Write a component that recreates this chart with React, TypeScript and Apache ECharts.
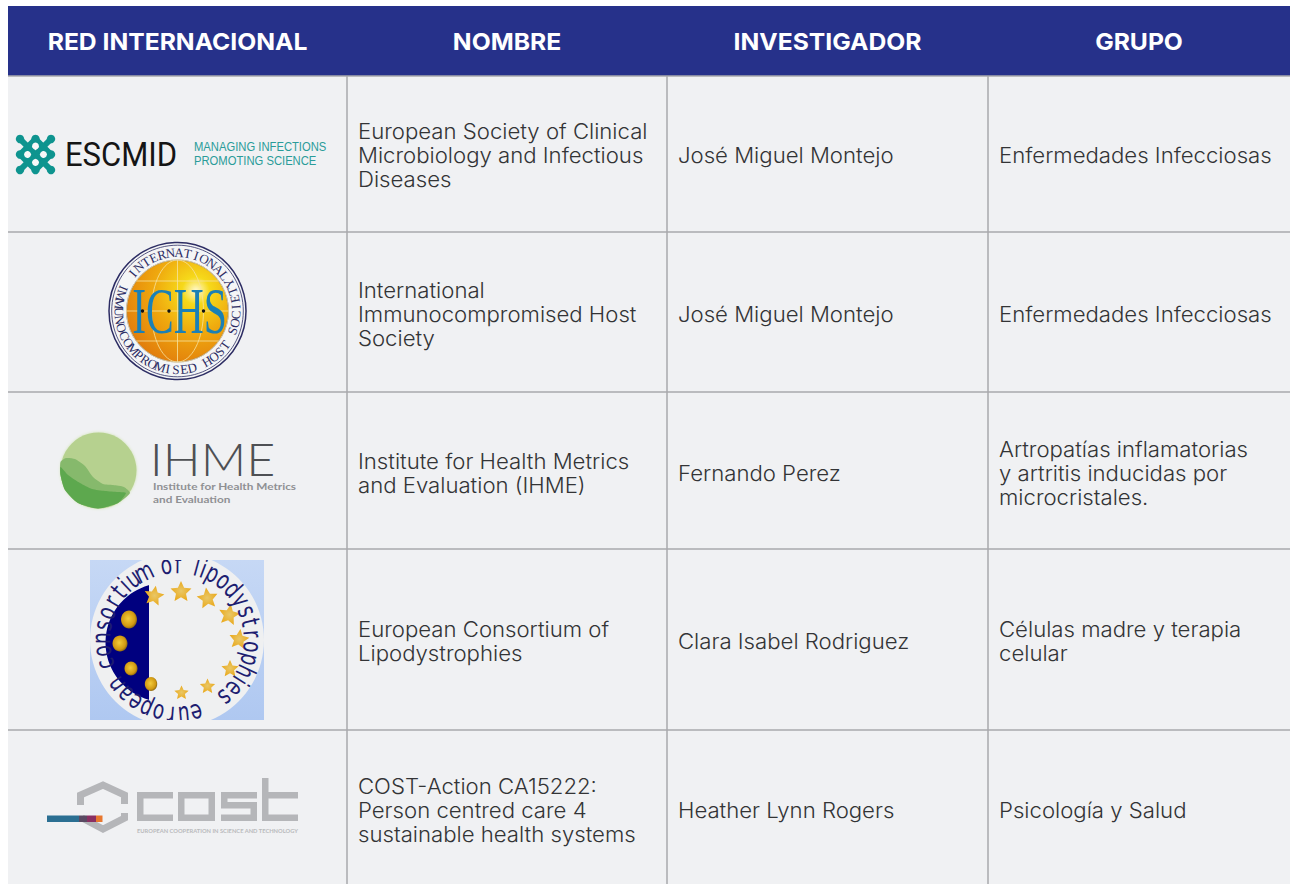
import React, { useEffect, useRef } from "react";
import * as echarts from "echarts";

const headers = ["RED INTERNACIONAL", "NOMBRE", "INVESTIGADOR", "GRUPO"];
const nombres = [
  ["European Society of Clinical", "Microbiology and Infectious", "Diseases"],
  ["International", "Immunocompromised Host", "Society"],
  ["Institute for Health Metrics", "and Evaluation (IHME)"],
  ["European Consortium of", "Lipodystrophies"],
  ["COST-Action CA15222:", "Person centred care 4", "sustainable health systems"],
];
const investigadores = [
  "José Miguel Montejo",
  "José Miguel Montejo",
  "Fernando Perez",
  "Clara Isabel Rodriguez",
  "Heather Lynn Rogers",
];
const grupos = [
  ["Enfermedades Infecciosas"],
  ["Enfermedades Infecciosas"],
  ["Artropatías inflamatorias", "y artritis inducidas por", "microcristales."],
  ["Células madre y terapia", "celular"],
  ["Psicología y Salud"],
];
const rowEdges = [76, 232, 392, 549, 730, 884];
const colEdges = [8, 347, 667, 988, 1290];

const escmidName = "ESCMID";
const escmidTag = ["MANAGING INFECTIONS", "PROMOTING SCIENCE"];
const ichsTop = "INTERNATIONAL";
const ichsBottom = "IMMUNOCOMPROMISED HOST SOCIETY";
const ichsInner = "ICHS";
const ihmeName = "IHME";
const ihmeSub = ["Institute for Health Metrics", "and Evaluation"];
const lipoRing = "european consortium of lipodystrophies";
const costSub = "EUROPEAN COOPERATION IN SCIENCE AND TECHNOLOGY";

const CELL = "#F0F1F3";
const RULE = "#A8A9AD";
const rad = (d: number) => (d * Math.PI) / 180;
const polar = (cx: number, cy: number, r: number, deg: number): [number, number] => [
  cx + r * Math.sin(rad(deg)),
  cy - r * Math.cos(rad(deg)),
];

function label(x: number, y: number, text: string, font: string, fill: string, o: any = {}) {
  const { align = "left", scaleX = 1, scaleY = 1, rotation = 0, lineHeight, opacity = 1 } = o;
  return {
    type: "text", x, y, scaleX, scaleY, rotation, silent: true,
    style: { text, x: 0, y: 0, font, fill, align, verticalAlign: "middle", lineHeight, opacity },
  };
}
const rect = (x: number, y: number, width: number, height: number, fill: string) => ({
  type: "rect", silent: true, shape: { x, y, width, height }, style: { fill },
});
const circle = (cx: number, cy: number, r: number, style: any) => ({
  type: "circle", silent: true, shape: { cx, cy, r }, style,
});
function star(cx: number, cy: number, r: number, rot: number) {
  const points: number[][] = [];
  for (let i = 0; i < 10; i++) points.push(polar(cx, cy, i % 2 ? r * 0.48 : r, rot + i * 36));
  return {
    type: "polygon", silent: true, shape: { points },
    style: {
      fill: { type: "radial", x: 0.5, y: 0.5, r: 0.6, colorStops: [{ offset: 0, color: "#E9C766" }, { offset: 1, color: "#EAA40F" }] },
    },
  };
}
const orb = (cx: number, cy: number, rx: number, ry: number) => ({
  type: "ellipse", silent: true, shape: { cx, cy, rx, ry },
  style: {
    fill: { type: "radial", x: 0.45, y: 0.45, r: 0.6, colorStops: [{ offset: 0, color: "#F3CB3A" }, { offset: 0.7, color: "#D29A12" }, { offset: 1, color: "#7A5A0E" }] },
  },
});

function tableEls(): any[] {
  const els: any[] = [];
  els.push(rect(colEdges[0], 6, colEdges[4] - colEdges[0], 70, "#26318A"));
  els.push(rect(colEdges[0], 76, colEdges[4] - colEdges[0], 808, CELL));
  headers.forEach((h, i) => {
    els.push(label((colEdges[i] + colEdges[i + 1]) / 2, 41.5, h, `bold 23.5px Inter, sans-serif`, "#FFFFFF", { align: "center", scaleX: 1.05 }));
  });
  rowEdges.slice(0, 5).forEach((y) => els.push(rect(colEdges[0], y - 0.75, colEdges[4] - colEdges[0], 1.5, RULE)));
  colEdges.slice(1, 4).forEach((x) => els.push(rect(x - 0.75, 76, 1.5, 808, RULE)));
  const tf = `300 21px Inter, sans-serif`;
  const ink = "#333436";
  nombres.forEach((_, r) => {
    const cy = [155.5, 314, 473, 641, 810][r];
    const block = (col: number, lines: string[]) =>
      lines.forEach((ln, k) => {
        els.push(label(colEdges[col] + 11, cy + (k - (lines.length - 1) / 2) * 24, ln, tf, ink, { scaleX: 1.055 }));
      });
    block(1, nombres[r]);
    block(2, [investigadores[r]]);
    block(3, grupos[r]);
  });
  return els;
}

function escmidEls(): any[] {
  const T = "#0E948F";
  const els: any[] = [];
  const nodes: number[][] = [[20, 139], [35.5, 139], [51, 139], [20, 154.5], [35.5, 154.5], [51, 154.5], [20, 170], [35.5, 170], [51, 170]];
  const mids: number[][] = [[27.75, 146.75], [43.25, 146.75], [27.75, 162.25], [43.25, 162.25]];
  mids.forEach(([mx, my]) => {
    [[-1, -1], [1, -1], [-1, 1], [1, 1]].forEach(([a, b]) => {
      els.push({
        type: "line", silent: true,
        shape: { x1: mx, y1: my, x2: mx + a * 7.75, y2: my + b * 7.75 },
        style: { stroke: T, lineWidth: 6, lineCap: "round" },
      });
    });
  });
  nodes.forEach(([x, y], i) => { if (i !== 4) els.push(circle(x, y, 4.2, { fill: T })); });
  [[35.5, 146], [27.5, 154.5], [43.5, 154.5], [35.5, 162.5]].forEach(([x, y]) => els.push(circle(x, y, 3.4, { fill: "#F7F8F8" })));
  els.push(label(121, 154.5, escmidName, `33px Roboto, sans-serif`, "#151515", { align: "center", scaleX: 0.94 }));
  escmidTag.forEach((t, i) => {
    els.push(label(194, 147 + i * 14, t, `12.5px "Liberation Sans", sans-serif`, "#2A9C99", { scaleX: 0.9 }));
  });
  return els;
}

function ichsEls(): any[] {
  const cx = 177.5, cy = 311;
  const N = "#2C2C63";
  const els: any[] = [];
  els.push(circle(cx, cy, 68.5, { fill: "#F4F5F6", stroke: N, lineWidth: 1.5 }));
  els.push(circle(cx, cy, 65.8, { fill: "none", stroke: N, lineWidth: 0.8 }));
  els.push(circle(cx, cy, 51, {
    fill: {
      type: "radial", x: 0.68, y: 0.3, r: 0.75,
      colorStops: [{ offset: 0, color: "#FFF9D0" }, { offset: 0.18, color: "#F6D91A" }, { offset: 0.55, color: "#EFA80E" }, { offset: 1, color: "#E27F0C" }],
    },
    stroke: N, lineWidth: 0.6,
  }));
  const grid = "#F6E2A0";
  [[cx, cy, 51, 51], [cx, cy, 26, 51]].forEach(([a, b, rx, ry]) =>
    els.push({ type: "ellipse", silent: true, shape: { cx: a, cy: b, rx, ry }, style: { fill: "none", stroke: grid, lineWidth: 0.8 } }));
  [-30, 0, 30].forEach((d) => {
    const hw = Math.sqrt(51 * 51 - d * d);
    els.push({ type: "line", silent: true, shape: { x1: cx - hw, y1: cy + d, x2: cx + hw, y2: cy + d }, style: { stroke: grid, lineWidth: 0.8 } });
  });
  els.push({ type: "line", silent: true, shape: { x1: cx, y1: cy - 51, x2: cx, y2: cy + 51 }, style: { stroke: grid, lineWidth: 0.8 } });
  els.push(label(cx + 2, cy, ichsInner, `66px "Liberation Serif", serif`, "#1A80B6", { align: "center", scaleX: 0.63 }));
  [[142.5, 311], [169, 311], [203.5, 311]].forEach(([x, y]) => els.push(circle(x, y, 1.7, { fill: "#111" })));
  const f = `13px "Liberation Serif", serif`;
  const top = ichsTop.split("");
  top.forEach((ch, i) => {
    const a = -50 + (i * 103) / (top.length - 1);
    const [x, y] = polar(cx, cy, 58.5, a);
    els.push(label(x, y, ch, f, N, { align: "center", rotation: rad(-a) }));
  });
  const bot = ichsBottom.split("");
  bot.forEach((ch, i) => {
    const a = 293 - (i * 231) / (bot.length - 1);
    const [x, y] = polar(cx, cy, 58.5, a);
    if (ch !== " ") els.push(label(x, y, ch, f, N, { align: "center", rotation: rad(180 - a) }));
  });
  return els;
}

function ihmeEls(): any[] {
  const els: any[] = [];
  els.push(circle(98.5, 470.5, 38, { fill: "#B6D18F", shadowColor: "#CFE3B0", shadowBlur: 3 }));
  const mid = [[60.5, 462], [66, 458], [75, 459], [85, 466], [93, 477], [103, 484], [113, 485], [124, 487], [130, 493], [118, 503], [98, 508.5], [78, 503], [65, 490], [60.5, 475]];
  const low = [[60.5, 467], [68, 475], [80, 483], [92, 489], [105, 491], [118, 492], [126, 493], [118, 503], [98, 508.5], [78, 503], [65, 490], [60.5, 475]];
  els.push({ type: "polygon", silent: true, shape: { points: mid, smooth: 0.2 }, style: { fill: "#86B96C" } });
  els.push({ type: "polygon", silent: true, shape: { points: low, smooth: 0.2 }, style: { fill: "#5DA84E" } });
  els.push(label(212.5, 459, ihmeName, `300 44px Lato, sans-serif`, "#4E5054", { align: "center", scaleX: 1.14, scaleY: 1.02 }));
  els.push(label(153, 486, ihmeSub[0], `bold 10.3px Lato, sans-serif`, "#8F9093", { scaleX: 1.146 }));
  els.push(label(153, 498.5, ihmeSub[1], `bold 10.3px Lato, sans-serif`, "#8F9093", { scaleX: 1.146 }));
  return els;
}

function lipoEls(): any[] {
  const cx = 177, cy = 640;
  const els: any[] = [];
  els.push({
    type: "rect", silent: true, shape: { x: 90, y: 560, width: 174, height: 160 },
    style: { fill: { type: "linear", x: 0, y: 0, x2: 0, y2: 1, colorStops: [{ offset: 0, color: "#C6D8F5" }, { offset: 1, color: "#AFC8F1" }] } },
  });
  els.push(circle(cx, cy, 87, { fill: "#EFF0F1" }));
  // navy half disc, left of x = 149
  const arc: number[][] = [];
  for (let a = 196; a <= 344; a += 4) arc.push(polar(165, 642.5, 59.5, a));
  const disc = [[149, 585], [149, 700], ...arc];
  els.push({ type: "polygon", silent: true, shape: { points: disc }, style: { fill: "#00007F" } });
  els.push(orb(129, 619.5, 8, 9));
  els.push(orb(120, 643.5, 7.5, 8));
  els.push(orb(131, 668.5, 6.5, 7));
  els.push(orb(151, 684, 6.2, 7));
  [[154, 596, 10.5, 10], [181, 592, 11, 0], [207.5, 598.5, 11, -8], [229, 615, 11, 10], [239, 639.5, 10.5, 8], [230, 669, 9, 0], [207.5, 686.5, 8, 0], [181.5, 693, 7.5, 0]].forEach(
    ([x, y, r, a]) => els.push(star(x, y, r, a))
  );
  const letters = lipoRing.split("");
  const weight = (c: string) => (c === "i" || c === "l" ? 0.55 : c === "t" || c === "f" ? 0.8 : c === " " ? 0.8 : 1);
  const total = letters.reduce((s, c) => s + weight(c), 0);
  let acc = 0;
  letters.forEach((ch) => {
    const w = weight(ch);
    const a = 160 + ((acc + w / 2) / total) * 345;
    acc += w;
    if (ch === " ") return;
    const [x, y] = polar(cx, cy, 76, a);
    els.push(label(x, y, ch, `26px "DejaVu Sans", sans-serif`, "#1D1D70", { align: "center", rotation: rad(-a), scaleX: 0.72 }));
  });
  // crop to the picture's frame
  els.push(rect(85, 551, 184, 9, CELL));
  els.push(rect(85, 720, 184, 9, CELL));
  return els;
}

function costEls(): any[] {
  const G = "#B5B6B9";
  const els: any[] = [];
  const st = { stroke: G, lineWidth: 7, fill: "none", lineJoin: "miter" };
  els.push({ type: "polyline", silent: true, shape: { points: [[80.5, 805], [80.5, 795], [103, 785], [124.5, 795], [124.5, 804]] }, style: st });
  els.push({ type: "polyline", silent: true, shape: { points: [[124.5, 813], [124.5, 818], [103, 829], [82, 818]] }, style: st });
  const b = (x: number, y: number, w: number, h: number) => els.push(rect(x, y, w, h, G));
  const t = 6.5;
  b(137, 792, 36, t); b(137, 792, t, 29); b(137, 814.5, 36, t);
  b(178, 792, 37, t); b(178, 814.5, 37, t); b(178, 792, t, 29); b(208.5, 792, t, 29);
  b(221, 792, 36, t); b(221, 792, t, 15); b(221, 802, 36, t); b(250.5, 802, t, 19); b(221, 814.5, 36, t);
  b(262, 778, t, 43); b(262, 792, 36, t); b(262, 814.5, 36, t);
  els.push(label(137, 830.5, costSub, `bold 5.6px Lato, sans-serif`, "#B9BABC", { scaleX: 1.03 }));
  els.push(rect(47, 815.5, 32, 6.5, "#2B6F92"));
  els.push(rect(79, 815.5, 8, 6.5, "#5A4A63"));
  els.push(rect(87, 815.5, 9, 6.5, "#8A2F62"));
  els.push(rect(96, 815.5, 6.5, 6.5, "#E8772E"));
  return els;
}

export default function App() {
  const ref = useRef<HTMLDivElement>(null);
  useEffect(() => {
    document.body.style.margin = "0";
    document.body.style.background = "#FFFFFF";
    const chart = echarts.init(ref.current!, undefined, { renderer: "svg" });
    chart.setOption({
      animation: false,
      graphic: { elements: [...tableEls(), ...escmidEls(), ...ichsEls(), ...ihmeEls(), ...lipoEls(), ...costEls()] },
    });
    return () => chart.dispose();
  }, []);
  return <div ref={ref} style={{ width: 1296, height: 884 }} />;
}
